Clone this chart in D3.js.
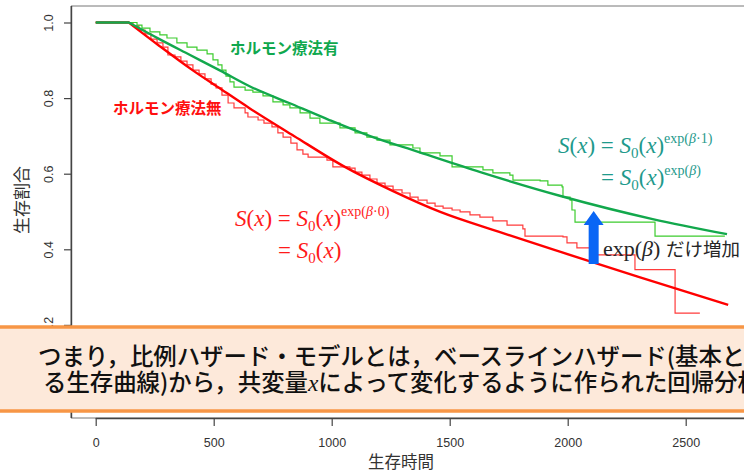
<!DOCTYPE html>
<html><head><meta charset="utf-8">
<script src="https://cdn.jsdelivr.net/npm/d3@7"></script>
<style>body{margin:0;background:#fff;overflow:hidden}svg{display:block}</style>
</head><body>
<svg id="c" width="744" height="473"></svg>
<script>
// ---- data ----
const timeTicks = [0, 500, 1000, 1500, 2000, 2500];
const survTicks = [0.2, 0.4, 0.6, 0.8, 1.0];
const survTickLabels = ["0.2", "0.4", "0.6", "0.8", "1.0"];

// Kaplan-Meier (step) : hormone therapy NO  [time, survival]
const kmNo = [[0,1],[137,1],[158,0.991],[183,0.980],[209,0.970],[234,0.956],[260,0.946],[285,0.935],[306,0.914],[336,0.909],[361,0.898],[387,0.888],[412,0.874],[438,0.864],[463,0.851],[489,0.837],[510,0.827],[535,0.808],[561,0.787],[586,0.774],[633,0.761],[645,0.750],[688,0.742],[713,0.734],[747,0.724],[772,0.708],[794,0.697],[827,0.681],[853,0.663],[878,0.652],[900,0.644],[980,0.636],[1005,0.618],[1077,0.615],[1099,0.604],[1128,0.596],[1162,0.586],[1192,0.575],[1226,0.567],[1260,0.557],[1298,0.549],[1332,0.538],[1366,0.530],[1404,0.522],[1438,0.514],[1472,0.509],[1510,0.504],[1544,0.499],[1586,0.491],[1628,0.485],[1683,0.475],[1743,0.464],[1810,0.454],[1819,0.435],[1980,0.433],[1997,0.417],[2039,0.404],[2094,0.385],[2285,0.346],[2455,0.231],[2560,0.231]];

// Kaplan-Meier (step) : hormone therapy YES
const kmYes = [[0,1],[165,1],[175,0.993],[196,0.985],[230,0.975],[272,0.967],[302,0.959],[344,0.946],[387,0.935],[429,0.927],[472,0.917],[497,0.901],[518,0.888],[535,0.874],[552,0.858],[569,0.843],[586,0.829],[633,0.821],[666,0.816],[709,0.806],[751,0.790],[794,0.782],[823,0.774],[866,0.761],[908,0.747],[950,0.734],[1035,0.721],[1099,0.708],[1149,0.697],[1192,0.689],[1247,0.676],[1344,0.668],[1374,0.655],[1459,0.647],[1510,0.618],[1641,0.610],[1683,0.602],[1755,0.596],[1768,0.583],[1883,0.581],[1916,0.570],[1976,0.565],[1980,0.538],[2010,0.530],[2018,0.504],[2031,0.472],[2370,0.435],[2666,0.435]];

// fitted (smooth) curves
const fitNo = [[0,1],[140,1],[270,0.938],[410,0.874],[530,0.824],[650,0.774],[840,0.700],[1050,0.620],[1260,0.554],[1460,0.499],[1710,0.446],[1970,0.393],[2300,0.327],[2680,0.253]];
const fitYes = [[0,1],[140,1],[270,0.956],[400,0.914],[530,0.872],[650,0.832],[820,0.787],[990,0.742],[1160,0.700],[1370,0.657],[1630,0.604],[1970,0.541],[2360,0.480],[2675,0.440]];

const labelYes = "ホルモン療法有";
const labelNo = "ホルモン療法無";
const xLabel = "生存時間";
const yLabel = "生存割合";
const bannerLine1 = "つまり，比例ハザード・モデルとは，ベースラインハザード(基本とな";
const bannerLine2a = "る生存曲線)から，共変量";
const bannerLine2b = "によって変化するように作られた回帰分析";
const arrowFrom = [2110, 0.361];
const arrowTo = [2110, 0.501];

// ---- drawing ----
const svg = d3.select("#c");
const x = d3.scaleLinear().domain([0, 2500]).range([95.7, 685.7]);
const y = d3.scaleLinear().domain([0.4, 1.0]).range([249.3, 22.5]);
const sans = "'Liberation Sans', Arial, sans-serif";
const cjk = "'Noto Sans CJK JP', 'Noto Sans', sans-serif";
const serif = "'Liberation Serif', 'Times New Roman', serif";

// frame
svg.append("path").attr("d", "M744,6H71V418H744").attr("fill", "none").attr("stroke", "#777").attr("stroke-width", 1);

// x axis
const gx = svg.append("g").attr("transform", "translate(0,418)")
  .call(d3.axisBottom(x).tickValues(timeTicks).tickSize(8).tickFormat(d3.format("d")).tickSizeOuter(0));
gx.select(".domain").attr("d", `M${x(0)},0.5H760`).attr("stroke", "#444").attr("stroke-width", 1.4);
gx.selectAll(".tick line").attr("stroke", "#444").attr("stroke-width", 1.2);
gx.selectAll(".tick text").attr("font-family", sans).attr("font-size", 12.5).attr("fill", "#333").attr("dy", null).attr("y", 25).attr("dominant-baseline", "central");

// y axis
const gy = svg.append("g").attr("transform", "translate(71,0)")
  .call(d3.axisLeft(y).tickValues(survTicks).tickSize(7).tickFormat((d, i) => survTickLabels[i]).tickSizeOuter(0));
gy.select(".domain").attr("d", "M0.5,6V418").attr("stroke", "#444").attr("stroke-width", 1.4);
gy.selectAll(".tick line").attr("stroke", "#444").attr("stroke-width", 1.2);
gy.selectAll(".tick text").attr("font-family", sans).attr("font-size", 12.5).attr("fill", "#333")
  .attr("x", 0).attr("dy", null).attr("text-anchor", "middle").attr("dominant-baseline", "central")
  .attr("transform", "translate(-22,0) rotate(-90)");

// axis titles
svg.append("text").attr("x", 401).attr("y", 461).attr("text-anchor", "middle").attr("dominant-baseline", "central")
  .attr("font-family", cjk).attr("font-size", 16.5).attr("fill", "#333").text(xLabel);
svg.append("text").attr("transform", "translate(20,200) rotate(-90)").attr("text-anchor", "middle").attr("dominant-baseline", "central")
  .attr("font-family", cjk).attr("font-size", 17).attr("fill", "#333").text(yLabel);

// lines
const step = d3.line().x(d => x(d[0])).y(d => y(d[1])).curve(d3.curveStepAfter);
const smooth = d3.line().x(d => x(d[0])).y(d => y(d[1])).curve(d3.curveMonotoneX);
function fitPath(data) {
  return `M${x(data[0][0])},${y(data[0][1])}L` + smooth(data.slice(1)).slice(1);
}
svg.append("path").attr("d", step(kmNo)).attr("fill", "none").attr("stroke", "#ff3b3b").attr("stroke-width", 1.2);
svg.append("path").attr("d", step(kmYes)).attr("fill", "none").attr("stroke", "#3ccc2e").attr("stroke-width", 1.2);
svg.append("path").attr("d", fitPath(fitNo)).attr("fill", "none").attr("stroke", "#ff0000").attr("stroke-width", 2.4);
svg.append("path").attr("d", fitPath(fitYes)).attr("fill", "none").attr("stroke", "#12a84c").attr("stroke-width", 2.4);

// group labels
svg.append("text").attr("x", 230).attr("y", 54).attr("font-family", cjk).attr("font-weight", "bold").attr("font-size", 15.5).attr("fill", "#10a84e").text(labelYes);
svg.append("text").attr("x", 113).attr("y", 114).attr("font-family", cjk).attr("font-weight", "bold").attr("font-size", 15.5).attr("fill", "#ff1010").text(labelNo);

// formula helper
function formula(x0, yb, parts, color) {
  const t = svg.append("text").attr("x", x0).attr("y", yb).attr("font-family", serif).attr("font-size", 23).attr("fill", color);
  parts.forEach(p => {
    const s = t.append("tspan").text(p.t);
    if (p.i) s.attr("font-style", "italic");
    if (p.fs) s.attr("font-size", p.fs);
    if (p.dy) s.attr("dy", p.dy);
  });
  return t;
}
const red = "#ff1a1a", teal = "#1f9a8c";
formula(235, 226, [{t:"S",i:1},{t:"("},{t:"x",i:1},{t:") = "},{t:"S",i:1},{t:"0",fs:15,dy:5},{t:"(",dy:-5},{t:"x",i:1},{t:")"},
  {t:"exp(",fs:14,dy:-10},{t:"β",fs:14,i:1},{t:"·0)",fs:14}], red);
formula(278, 258, [{t:"= "},{t:"S",i:1},{t:"0",fs:15,dy:5},{t:"(",dy:-5},{t:"x",i:1},{t:")"}], red);
formula(558, 153, [{t:"S",i:1},{t:"("},{t:"x",i:1},{t:") = "},{t:"S",i:1},{t:"0",fs:15,dy:5},{t:"(",dy:-5},{t:"x",i:1},{t:")"},
  {t:"exp(",fs:14,dy:-10},{t:"β",fs:14,i:1},{t:"·1)",fs:14}], teal);
formula(601, 185, [{t:"= "},{t:"S",i:1},{t:"0",fs:15,dy:5},{t:"(",dy:-5},{t:"x",i:1},{t:")"},
  {t:"exp(",fs:14,dy:-10},{t:"β",fs:14,i:1},{t:")",fs:14}], teal);

// arrow
const ax = x(arrowFrom[0]), ay0 = y(arrowFrom[1]), ay1 = y(arrowTo[1]);
svg.append("path").attr("d", `M${ax-5},${ay0}V${ay1+14}H${ax-10}L${ax},${ay1}L${ax+10},${ay1+14}H${ax+5}V${ay0}Z`).attr("fill", "#0a66f5");
const ann = svg.append("text").attr("x", 603).attr("y", 256).attr("fill", "#262626");
ann.append("tspan").attr("font-family", serif).attr("font-size", 22).text("exp(");
ann.append("tspan").attr("font-family", serif).attr("font-size", 22).attr("font-style", "italic").text("β");
ann.append("tspan").attr("font-family", serif).attr("font-size", 22).text(") ");
ann.append("tspan").attr("font-family", cjk).attr("font-size", 18.5).text("だけ増加");

// banner
svg.append("rect").attr("x", -5).attr("y", 327).attr("width", 760).attr("height", 84)
  .attr("fill", "#fde9da").attr("stroke", "#f79646").attr("stroke-width", 3.5);
svg.append("text").attr("x", 38).attr("y", 365).attr("font-family", cjk).attr("font-weight", 500).attr("font-size", 23.4).attr("fill", "#111").text(bannerLine1);
const b2 = svg.append("text").attr("x", 43).attr("y", 391).attr("font-family", cjk).attr("font-weight", 500).attr("font-size", 23.4).attr("fill", "#111");
b2.append("tspan").text(bannerLine2a);
b2.append("tspan").attr("font-family", serif).attr("font-style", "italic").text("x");
b2.append("tspan").text(bannerLine2b);
</script>
</body></html>
